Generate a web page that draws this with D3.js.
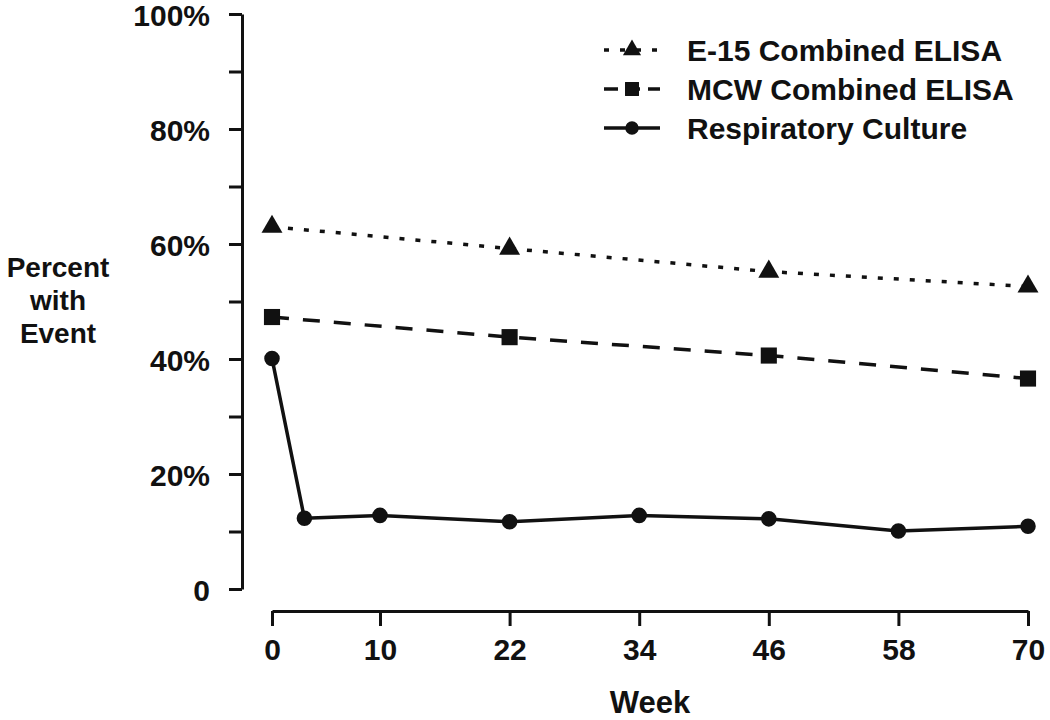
<!DOCTYPE html>
<html>
<head>
<meta charset="utf-8">
<script src="https://cdn.jsdelivr.net/npm/d3@7"></script>
<style>
  html, body { margin: 0; padding: 0; background: #fff; }
  svg { display: block; font-family: "Liberation Sans", Arial, sans-serif; }
</style>
</head>
<body>
<svg id="chart" width="1050" height="720"></svg>
<script>
// ---- data ----
const weeksElisa = [0, 22, 46, 70];
const e15Values = [63.0, 59.2, 55.2, 52.6];
const mcwValues = [47.3, 43.8, 40.6, 36.6];
const weeksCulture = [0, 3, 10, 22, 34, 46, 58, 70];
const cultureValues = [40.1, 12.3, 12.8, 11.7, 12.8, 12.2, 10.1, 10.9];
const xTickValues = [0, 10, 22, 34, 46, 58, 70];
const yTickValues = [0, 10, 20, 30, 40, 50, 60, 70, 80, 90, 100];
const seriesNames = ["E-15 Combined ELISA", "MCW Combined ELISA", "Respiratory Culture"];
const xTitle = "Week";
const yTitleLines = ["Percent", "with", "Event"];

// ---- layout ----
const svg = d3.select("#chart");
const ink = "#111";
const x = d3.scaleLinear().domain([0, 70]).range([272, 1028]);
const y = d3.scaleLinear().domain([0, 100]).range([589, 14]);

// y axis (detached, at x=242)
const yAxis = d3.axisLeft(y)
  .tickValues(yTickValues)
  .tickSize(13)
  .tickPadding(19)
  .tickSizeOuter(0)
  .tickFormat(d => d % 20 === 0 ? (d === 0 ? "0" : d + "%") : "");
const gy = svg.append("g").attr("transform", "translate(242,0)").call(yAxis);
gy.select(".domain").attr("stroke", ink).attr("stroke-width", 3);
gy.selectAll(".tick line").attr("stroke", ink).attr("stroke-width", 3);
gy.selectAll(".tick text").attr("fill", ink).attr("font-size", 30).attr("font-weight", "bold")
  .attr("dy", "0.38em")
  .attr("font-family", "'Liberation Sans', Arial, sans-serif");

// x axis
const xAxis = d3.axisBottom(x)
  .tickValues(xTickValues)
  .tickSize(15)
  .tickPadding(13)
  .tickSizeOuter(0)
  .tickFormat(d3.format("d"));
const gx = svg.append("g").attr("transform", "translate(0,611)").call(xAxis);
gx.select(".domain").attr("stroke", ink).attr("stroke-width", 3);
gx.selectAll(".tick line").attr("stroke", ink).attr("stroke-width", 3);
gx.selectAll(".tick text").attr("fill", ink).attr("font-size", 30).attr("font-weight", "bold")
  .attr("font-family", "'Liberation Sans', Arial, sans-serif");

// axis titles
svg.append("text")
  .attr("x", (x.range()[0] + x.range()[1]) / 2)
  .attr("y", 713)
  .attr("text-anchor", "middle")
  .attr("font-size", 31).attr("font-weight", "bold").attr("fill", ink)
  .text(xTitle);

svg.append("g").selectAll("text").data(yTitleLines).join("text")
  .attr("x", 58)
  .attr("y", (d, i) => 277 + i * 33)
  .attr("text-anchor", "middle")
  .attr("font-size", 28).attr("font-weight", "bold").attr("fill", ink)
  .text(d => d);

// series
const series = [
  { name: seriesNames[0], weeks: weeksElisa, values: e15Values, dash: "5,11", symbol: d3.symbolTriangle, size: 190 },
  { name: seriesNames[1], weeks: weeksElisa, values: mcwValues, dash: "17,14", symbol: d3.symbolSquare, size: 260 },
  { name: seriesNames[2], weeks: weeksCulture, values: cultureValues, dash: null, symbol: d3.symbolCircle, size: 190 }
];

const line = d3.line().x(d => x(d[0])).y(d => y(d[1]));

series.forEach(s => {
  const pts = s.weeks.map((w, i) => [w, s.values[i]]);
  svg.append("path")
    .datum(pts)
    .attr("d", line)
    .attr("fill", "none")
    .attr("stroke", ink)
    .attr("stroke-width", 3.5)
    .attr("stroke-dasharray", s.dash)
    .attr("stroke-linejoin", "round");
  svg.append("g").selectAll("path").data(pts).join("path")
    .attr("transform", d => `translate(${x(d[0])},${y(d[1])})`)
    .attr("d", d3.symbol().type(s.symbol).size(s.size))
    .attr("fill", ink);
});

// legend
const legend = svg.append("g");
series.forEach((s, i) => {
  const cy = 50 + i * 39;
  legend.append("line")
    .attr("x1", 604).attr("x2", 660).attr("y1", cy).attr("y2", cy)
    .attr("stroke", ink).attr("stroke-width", 3.5)
    .attr("stroke-dasharray", s.dash ? (i === 0 ? "5,11" : "14,8") : null);
  legend.append("path")
    .attr("transform", `translate(632,${cy})`)
    .attr("d", d3.symbol().type(s.symbol).size(s.size * 0.75))
    .attr("fill", ink);
  legend.append("text")
    .attr("x", 687).attr("y", cy).attr("dy", "0.36em")
    .attr("font-size", 30).attr("font-weight", "bold").attr("fill", ink)
    .text(s.name);
});
</script>
</body>
</html>
